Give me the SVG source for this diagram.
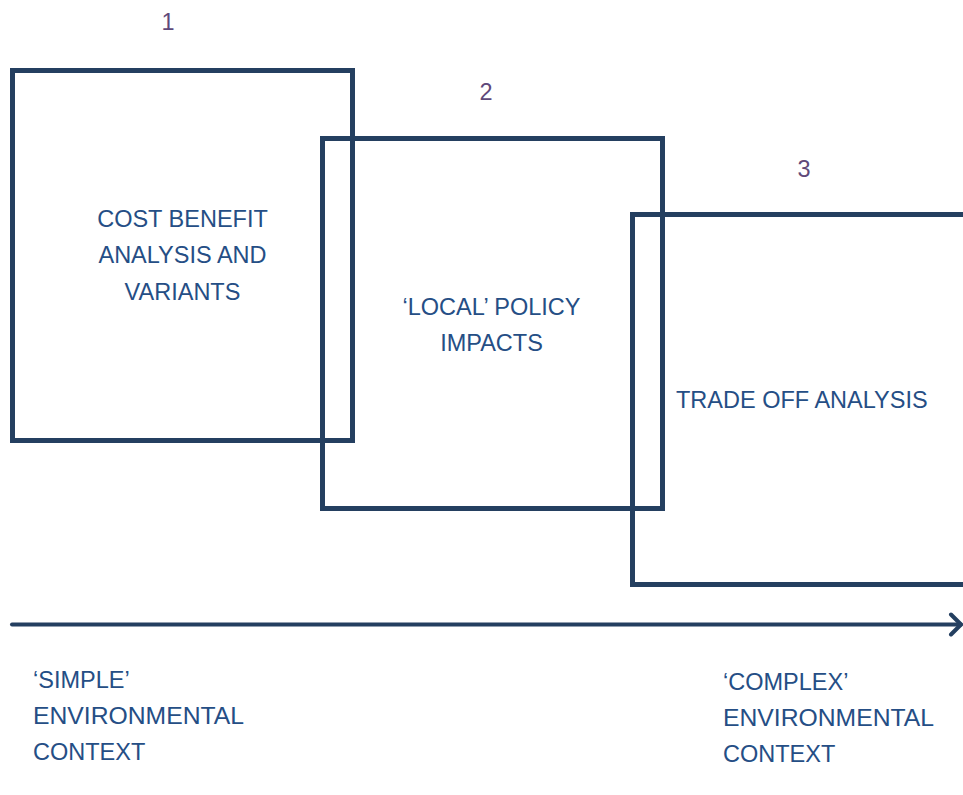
<svg xmlns="http://www.w3.org/2000/svg" width="963" height="795" viewBox="0 0 963 795">
<style>
.box{fill:none;stroke:#243F60;stroke-width:5}
.t{font-family:"Liberation Sans",Arial,sans-serif;font-size:23.5px;fill:#254E85}
.n{font-family:"Liberation Sans",Arial,sans-serif;font-size:23.5px;fill:#5F497A;text-anchor:middle}
.c{text-anchor:middle}
.ax{fill:none;stroke:#243F60;stroke-width:4;stroke-linecap:round;stroke-linejoin:round}
</style>
<rect width="963" height="795" fill="#ffffff"/>
<g id="node1">
<rect class="box" x="12.5" y="70.5" width="340" height="370"/>
<text class="n" x="168" y="30">1</text>
<text class="t c" x="182.5" y="227">COST BENEFIT</text>
<text class="t c" x="182.5" y="263">ANALYSIS AND</text>
<text class="t c" x="182.5" y="300">VARIANTS</text>
</g>
<g id="node2">
<rect class="box" x="322.5" y="138.5" width="340" height="370"/>
<text class="n" x="486" y="100">2</text>
<text class="t c" x="491.5" y="315">‘LOCAL’ POLICY</text>
<text class="t c" x="491.5" y="351">IMPACTS</text>
</g>
<g id="node3">
<path class="box" d="M966,214.5 H632.5 V584.5 H966"/>
<text class="n" x="804" y="177">3</text>
<text class="t" x="676" y="408">TRADE OFF ANALYSIS</text>
</g>
<g id="connectors">
<path class="ax" d="M12,624.5 H961"/>
<path class="ax" d="M951,614.5 L961,624.5 L951,634.5"/>
</g>
<g id="labels">
<text class="t" x="33" y="688">‘SIMPLE’</text>
<text class="t" x="33" y="724" textLength="211" lengthAdjust="spacingAndGlyphs">ENVIRONMENTAL</text>
<text class="t" x="33" y="760">CONTEXT</text>
<text class="t" x="723" y="690">‘COMPLEX’</text>
<text class="t" x="723" y="726" textLength="211" lengthAdjust="spacingAndGlyphs">ENVIRONMENTAL</text>
<text class="t" x="723" y="762">CONTEXT</text>
</g>
</svg>
